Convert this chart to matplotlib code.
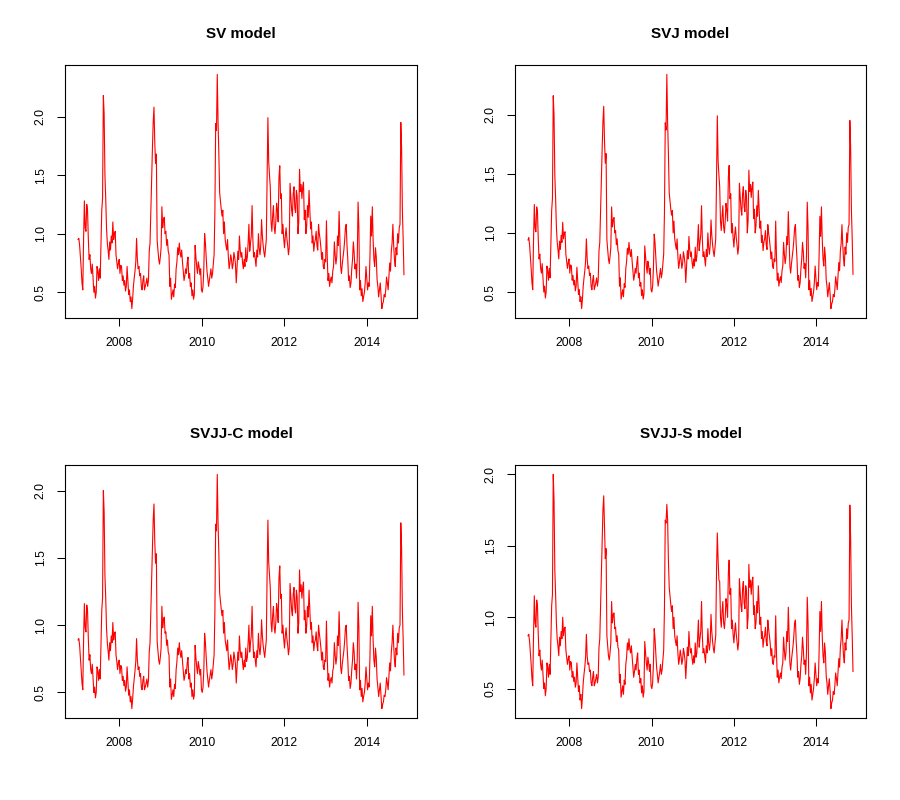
import numpy as np
import pandas as pd
import matplotlib
matplotlib.use("Agg")
import matplotlib.pyplot as plt
import matplotlib.dates as mdates

plt.rcParams['font.family'] = ['Liberation Sans', 'DejaVu Sans']

# weekly observations; values stored as even weeks (*_even) and odd weeks (*_odd)
dates = pd.date_range("2007-01-01", periods=413, freq="7D")

sv_even = [0.95, 0.90, 0.70, 0.52, 1.28, 1.02, 1.20, 0.78, 0.70, 0.74,
           0.50, 0.45, 0.72, 0.60, 0.62, 1.20, 2.18, 1.50, 1.05, 0.86,
           0.93, 0.98, 1.10, 1.00, 0.82, 0.70, 0.78, 0.73, 0.60, 0.56,
           0.51, 0.72, 0.48, 0.42, 0.36, 0.55, 0.68, 0.96, 0.70, 0.64,
           0.55, 0.60, 0.52, 0.58, 0.55, 0.85, 1.20, 1.72, 2.08, 1.60,
           0.94, 0.78, 0.80, 1.23, 1.12, 1.00, 0.90, 0.85, 0.55, 0.44,
           0.52, 0.57, 0.70, 0.88, 0.92, 0.80, 0.76, 0.60, 0.70, 0.75,
           0.62, 0.55, 0.47, 0.44, 0.90, 0.72, 0.76, 0.65, 0.52, 0.55,
           1.00, 0.80, 0.62, 0.60, 0.70, 0.66, 0.82, 1.94, 2.36, 1.68,
           1.28, 1.15, 1.00, 0.95, 0.86, 0.80, 0.75, 0.78, 0.74, 0.80,
           0.58, 0.85, 0.98, 0.80, 0.75, 0.78, 0.88, 0.80, 1.08, 0.92,
           1.24, 0.80, 0.78, 0.86, 1.00, 0.82, 1.12, 0.90, 0.80, 0.95,
           1.99, 1.50, 1.10, 1.15, 1.05, 1.10, 1.20, 1.48, 1.30, 1.00,
           0.96, 0.98, 0.96, 0.82, 1.43, 1.20, 1.34, 1.22, 1.37, 1.00,
           1.55, 1.42, 1.40, 1.12, 1.00, 1.24, 1.37, 1.04, 0.92, 0.85,
           0.95, 0.90, 1.08, 0.95, 0.78, 0.72, 0.78, 1.11, 0.60, 0.55,
           0.63, 0.68, 0.93, 0.74, 0.98, 1.19, 0.72, 0.74, 0.86, 1.05,
           0.90, 0.60, 0.54, 0.70, 0.93, 0.70, 0.62, 1.27, 0.52, 0.47,
           0.42, 0.50, 0.72, 0.52, 0.55, 1.15, 1.23, 0.78, 0.88, 0.61,
           0.46, 0.58, 0.36, 0.42, 0.46, 0.63, 0.52, 0.75, 0.85, 1.08,
           0.78, 0.88, 1.00, 1.05, 1.95, 1.20, 0.65]
sv_odd = [0.96, 0.80, 0.58, 0.95, 1.05, 1.25, 0.96, 0.82, 0.66, 0.62,
          0.55, 0.50, 0.68, 0.70, 0.90, 1.30, 2.02, 1.30, 0.92, 0.78,
          0.86, 0.92, 0.95, 1.02, 0.76, 0.75, 0.66, 0.72, 0.64, 0.60,
          0.55, 0.60, 0.52, 0.46, 0.44, 0.62, 0.76, 0.78, 0.72, 0.66,
          0.52, 0.64, 0.55, 0.62, 0.60, 0.92, 1.45, 1.95, 1.78, 1.68,
          0.86, 0.74, 0.88, 1.05, 1.14, 1.02, 0.95, 0.82, 0.62, 0.48,
          0.46, 0.54, 0.76, 0.82, 0.84, 0.86, 0.68, 0.64, 0.66, 0.80,
          0.66, 0.58, 0.52, 0.48, 0.80, 0.66, 0.72, 0.70, 0.50, 0.70,
          0.92, 0.68, 0.55, 0.65, 0.62, 0.74, 1.19, 1.88, 1.95, 1.35,
          1.21, 1.20, 1.10, 0.90, 0.95, 0.70, 0.82, 0.70, 0.84, 0.74,
          0.72, 0.78, 0.86, 0.84, 0.70, 0.72, 0.76, 0.92, 0.85, 0.98,
          0.95, 0.84, 0.72, 0.80, 0.88, 0.90, 0.98, 0.84, 0.88, 1.50,
          1.62, 1.40, 1.02, 1.24, 1.00, 1.26, 1.10, 1.58, 1.34, 1.08,
          0.88, 1.05, 0.90, 0.88, 1.32, 1.15, 1.40, 1.18, 1.32, 1.10,
          1.36, 1.30, 1.44, 1.20, 1.06, 1.14, 1.20, 1.10, 0.98, 0.92,
          1.02, 0.86, 1.00, 0.88, 0.84, 0.70, 0.76, 0.80, 0.66, 0.60,
          0.58, 0.72, 0.82, 0.80, 0.90, 0.95, 0.66, 0.80, 0.94, 1.08,
          0.78, 0.64, 0.58, 0.78, 0.84, 0.74, 0.80, 1.05, 0.60, 0.53,
          0.46, 0.58, 0.62, 0.58, 0.80, 0.98, 0.95, 0.72, 0.80, 0.55,
          0.52, 0.48, 0.40, 0.48, 0.52, 0.58, 0.64, 0.68, 0.92, 0.90,
          0.72, 0.82, 0.92, 1.08, 1.74, 0.95]

svj_even = [0.94, 0.90, 0.70, 0.52, 1.24, 1.01, 1.18, 0.78, 0.70, 0.74,
            0.50, 0.45, 0.72, 0.60, 0.62, 1.19, 2.16, 1.49, 1.05, 0.86,
            0.93, 0.98, 1.09, 1.00, 0.82, 0.70, 0.78, 0.73, 0.60, 0.56,
            0.51, 0.71, 0.48, 0.42, 0.36, 0.55, 0.68, 0.95, 0.70, 0.64,
            0.55, 0.60, 0.52, 0.58, 0.55, 0.85, 1.19, 1.71, 2.07, 1.59,
            0.94, 0.78, 0.80, 1.22, 1.11, 1.00, 0.90, 0.85, 0.55, 0.44,
            0.52, 0.57, 0.70, 0.87, 0.92, 0.80, 0.76, 0.60, 0.70, 0.75,
            0.62, 0.55, 0.47, 0.44, 0.89, 0.72, 0.76, 0.65, 0.52, 0.55,
            0.99, 0.80, 0.62, 0.60, 0.70, 0.66, 0.82, 1.93, 2.34, 1.67,
            1.27, 1.15, 1.00, 0.95, 0.86, 0.80, 0.75, 0.78, 0.74, 0.80,
            0.58, 0.85, 0.97, 0.80, 0.75, 0.78, 0.88, 0.80, 1.07, 0.92,
            1.23, 0.80, 0.78, 0.86, 1.00, 0.82, 1.11, 0.90, 0.80, 0.95,
            1.99, 1.49, 1.10, 1.14, 1.05, 1.10, 1.19, 1.47, 1.29, 1.00,
            0.96, 0.98, 0.96, 0.82, 1.42, 1.20, 1.33, 1.22, 1.36, 1.00,
            1.53, 1.41, 1.39, 1.12, 1.00, 1.23, 1.36, 1.04, 0.92, 0.85,
            0.95, 0.90, 1.07, 0.95, 0.78, 0.72, 0.78, 1.10, 0.60, 0.55,
            0.63, 0.68, 0.92, 0.74, 0.97, 1.18, 0.72, 0.74, 0.86, 1.04,
            0.90, 0.60, 0.54, 0.70, 0.92, 0.70, 0.62, 1.26, 0.52, 0.47,
            0.42, 0.50, 0.72, 0.52, 0.55, 1.14, 1.22, 0.78, 0.88, 0.61,
            0.46, 0.58, 0.36, 0.42, 0.46, 0.63, 0.52, 0.75, 0.85, 1.07,
            0.78, 0.88, 1.00, 1.05, 1.95, 1.19, 0.65]
svj_odd = [0.96, 0.80, 0.58, 0.94, 1.04, 1.22, 0.95, 0.82, 0.66, 0.62,
           0.55, 0.50, 0.68, 0.70, 0.90, 1.29, 2.00, 1.29, 0.92, 0.78,
           0.86, 0.92, 0.95, 1.01, 0.76, 0.75, 0.66, 0.72, 0.64, 0.60,
           0.55, 0.60, 0.52, 0.46, 0.44, 0.62, 0.76, 0.78, 0.72, 0.66,
           0.52, 0.64, 0.55, 0.62, 0.60, 0.92, 1.44, 1.94, 1.77, 1.67,
           0.86, 0.74, 0.88, 1.05, 1.13, 1.02, 0.95, 0.82, 0.62, 0.48,
           0.46, 0.54, 0.76, 0.82, 0.84, 0.86, 0.68, 0.64, 0.66, 0.80,
           0.66, 0.58, 0.52, 0.48, 0.80, 0.66, 0.72, 0.70, 0.50, 0.70,
           0.92, 0.68, 0.55, 0.65, 0.62, 0.74, 1.18, 1.87, 1.93, 1.34,
           1.20, 1.19, 1.10, 0.90, 0.95, 0.70, 0.82, 0.70, 0.84, 0.74,
           0.72, 0.78, 0.86, 0.84, 0.70, 0.72, 0.76, 0.92, 0.85, 0.98,
           0.95, 0.84, 0.72, 0.80, 0.88, 0.90, 0.98, 0.84, 0.88, 1.49,
           1.61, 1.39, 1.02, 1.23, 1.00, 1.25, 1.10, 1.57, 1.33, 1.08,
           0.88, 1.05, 0.90, 0.88, 1.31, 1.15, 1.39, 1.18, 1.31, 1.10,
           1.35, 1.30, 1.43, 1.20, 1.06, 1.14, 1.20, 1.10, 0.98, 0.92,
           1.02, 0.86, 1.00, 0.88, 0.84, 0.70, 0.76, 0.80, 0.66, 0.60,
           0.58, 0.72, 0.82, 0.80, 0.90, 0.95, 0.66, 0.80, 0.94, 1.07,
           0.78, 0.64, 0.58, 0.78, 0.84, 0.74, 0.80, 1.04, 0.60, 0.53,
           0.46, 0.58, 0.62, 0.58, 0.80, 0.97, 0.95, 0.72, 0.80, 0.55,
           0.52, 0.48, 0.40, 0.48, 0.52, 0.58, 0.64, 0.68, 0.91, 0.90,
           0.72, 0.82, 0.92, 1.07, 1.73, 0.95]

svjj_c_even = [0.89, 0.85, 0.67, 0.52, 1.16, 0.95, 1.11, 0.74, 0.67, 0.71,
               0.50, 0.46, 0.69, 0.59, 0.60, 1.11, 2.00, 1.37, 0.98, 0.81,
               0.87, 0.92, 1.02, 0.94, 0.78, 0.67, 0.74, 0.70, 0.59, 0.55,
               0.51, 0.69, 0.48, 0.43, 0.38, 0.54, 0.66, 0.90, 0.67, 0.62,
               0.54, 0.59, 0.52, 0.57, 0.54, 0.80, 1.11, 1.56, 1.90, 1.46,
               0.88, 0.74, 0.76, 1.14, 1.04, 0.94, 0.85, 0.80, 0.54, 0.45,
               0.52, 0.56, 0.67, 0.83, 0.87, 0.76, 0.73, 0.59, 0.67, 0.72,
               0.60, 0.54, 0.47, 0.45, 0.85, 0.69, 0.73, 0.63, 0.52, 0.54,
               0.94, 0.76, 0.60, 0.59, 0.67, 0.64, 0.78, 1.75, 2.12, 1.53,
               1.18, 1.07, 0.94, 0.89, 0.81, 0.76, 0.72, 0.74, 0.71, 0.76,
               0.57, 0.80, 0.92, 0.76, 0.72, 0.74, 0.83, 0.76, 1.00, 0.87,
               1.14, 0.76, 0.74, 0.81, 0.94, 0.78, 1.04, 0.85, 0.76, 0.89,
               1.78, 1.37, 1.02, 1.07, 0.98, 1.02, 1.11, 1.35, 1.20, 0.94,
               0.90, 0.92, 0.90, 0.78, 1.31, 1.11, 1.23, 1.13, 1.26, 0.94,
               1.41, 1.30, 1.28, 1.04, 0.94, 1.14, 1.26, 0.97, 0.87, 0.81,
               0.89, 0.85, 1.00, 0.89, 0.74, 0.69, 0.74, 1.03, 0.59, 0.54,
               0.61, 0.66, 0.87, 0.71, 0.92, 1.10, 0.69, 0.71, 0.81, 0.98,
               0.85, 0.59, 0.53, 0.67, 0.87, 0.67, 0.60, 1.17, 0.52, 0.47,
               0.43, 0.50, 0.69, 0.52, 0.54, 1.07, 1.14, 0.74, 0.83, 0.60,
               0.47, 0.57, 0.38, 0.43, 0.47, 0.61, 0.52, 0.72, 0.80, 1.00,
               0.74, 0.83, 0.94, 0.98, 1.76, 1.11, 0.63]
svjj_c_odd = [0.90, 0.76, 0.57, 0.89, 0.98, 1.15, 0.90, 0.78, 0.64, 0.60,
              0.54, 0.50, 0.66, 0.67, 0.85, 1.20, 1.84, 1.20, 0.87, 0.74,
              0.81, 0.87, 0.89, 0.95, 0.73, 0.72, 0.64, 0.69, 0.62, 0.59,
              0.54, 0.59, 0.52, 0.47, 0.45, 0.60, 0.73, 0.74, 0.69, 0.64,
              0.52, 0.62, 0.54, 0.60, 0.59, 0.87, 1.33, 1.78, 1.62, 1.53,
              0.81, 0.71, 0.83, 0.98, 1.06, 0.95, 0.89, 0.78, 0.60, 0.48,
              0.47, 0.53, 0.73, 0.78, 0.80, 0.81, 0.66, 0.62, 0.64, 0.76,
              0.64, 0.57, 0.52, 0.48, 0.76, 0.64, 0.69, 0.67, 0.50, 0.67,
              0.87, 0.66, 0.54, 0.63, 0.60, 0.71, 1.10, 1.70, 1.76, 1.24,
              1.12, 1.11, 1.02, 0.85, 0.89, 0.67, 0.78, 0.67, 0.80, 0.71,
              0.69, 0.74, 0.81, 0.80, 0.67, 0.69, 0.73, 0.87, 0.80, 0.92,
              0.89, 0.80, 0.69, 0.76, 0.83, 0.85, 0.92, 0.80, 0.83, 1.37,
              1.47, 1.28, 0.95, 1.14, 0.94, 1.16, 1.02, 1.44, 1.23, 1.00,
              0.83, 0.98, 0.85, 0.83, 1.21, 1.07, 1.28, 1.09, 1.21, 1.02,
              1.25, 1.20, 1.32, 1.11, 0.99, 1.06, 1.11, 1.02, 0.92, 0.87,
              0.95, 0.81, 0.94, 0.83, 0.80, 0.67, 0.73, 0.76, 0.64, 0.59,
              0.57, 0.69, 0.78, 0.76, 0.85, 0.89, 0.64, 0.76, 0.88, 1.00,
              0.74, 0.62, 0.57, 0.74, 0.80, 0.71, 0.76, 0.98, 0.59, 0.53,
              0.47, 0.57, 0.60, 0.57, 0.76, 0.92, 0.89, 0.69, 0.76, 0.54,
              0.52, 0.48, 0.41, 0.48, 0.52, 0.57, 0.62, 0.66, 0.87, 0.85,
              0.69, 0.78, 0.87, 1.00, 1.58, 0.89]

svjj_s_even = [0.87, 0.83, 0.67, 0.52, 1.15, 0.93, 1.08, 0.73, 0.67, 0.70,
               0.50, 0.45, 0.68, 0.58, 0.60, 1.08, 2.00, 1.33, 0.96, 0.80,
               0.86, 0.90, 1.00, 0.92, 0.77, 0.67, 0.73, 0.69, 0.58, 0.55,
               0.51, 0.68, 0.48, 0.42, 0.36, 0.54, 0.65, 0.88, 0.67, 0.62,
               0.54, 0.58, 0.52, 0.57, 0.54, 0.79, 1.08, 1.51, 1.85, 1.41,
               0.87, 0.73, 0.75, 1.11, 1.02, 0.92, 0.83, 0.79, 0.54, 0.44,
               0.52, 0.56, 0.67, 0.82, 0.85, 0.75, 0.72, 0.58, 0.67, 0.71,
               0.60, 0.54, 0.47, 0.44, 0.83, 0.68, 0.72, 0.62, 0.52, 0.54,
               0.92, 0.75, 0.60, 0.58, 0.67, 0.63, 0.77, 1.68, 1.79, 1.40,
               1.15, 1.04, 0.92, 0.87, 0.80, 0.75, 0.71, 0.73, 0.70, 0.75,
               0.57, 0.79, 0.90, 0.75, 0.71, 0.73, 0.82, 0.75, 0.98, 0.85,
               1.11, 0.75, 0.73, 0.80, 0.92, 0.77, 1.02, 0.83, 0.75, 0.87,
               1.59, 1.26, 1.00, 1.04, 0.96, 1.00, 1.08, 1.31, 1.16, 0.92,
               0.88, 0.90, 0.88, 0.77, 1.27, 1.08, 1.20, 1.10, 1.22, 0.92,
               1.37, 1.26, 1.25, 1.02, 0.92, 1.11, 1.22, 0.95, 0.85, 0.79,
               0.87, 0.83, 0.98, 0.87, 0.73, 0.68, 0.73, 1.01, 0.58, 0.54,
               0.61, 0.65, 0.86, 0.70, 0.90, 1.07, 0.68, 0.70, 0.80, 0.96,
               0.83, 0.58, 0.53, 0.67, 0.86, 0.67, 0.60, 1.14, 0.52, 0.47,
               0.42, 0.50, 0.68, 0.52, 0.54, 1.04, 1.11, 0.73, 0.82, 0.59,
               0.46, 0.57, 0.36, 0.42, 0.46, 0.61, 0.52, 0.71, 0.79, 0.98,
               0.73, 0.82, 0.92, 0.96, 1.785, 1.08, 0.62]
svjj_s_odd = [0.88, 0.75, 0.57, 0.87, 0.96, 1.12, 0.88, 0.77, 0.63, 0.60,
              0.54, 0.50, 0.65, 0.67, 0.83, 1.16, 1.82, 1.16, 0.85, 0.73,
              0.80, 0.85, 0.87, 0.93, 0.72, 0.71, 0.63, 0.68, 0.62, 0.58,
              0.54, 0.58, 0.52, 0.46, 0.44, 0.60, 0.72, 0.73, 0.68, 0.63,
              0.52, 0.62, 0.54, 0.60, 0.58, 0.85, 1.29, 1.75, 1.62, 1.48,
              0.80, 0.70, 0.82, 0.96, 1.03, 0.93, 0.87, 0.77, 0.60, 0.48,
              0.46, 0.53, 0.72, 0.77, 0.78, 0.80, 0.65, 0.62, 0.63, 0.75,
              0.63, 0.57, 0.52, 0.48, 0.75, 0.63, 0.68, 0.67, 0.50, 0.67,
              0.85, 0.65, 0.54, 0.62, 0.60, 0.70, 1.07, 1.66, 1.68, 1.21,
              1.09, 1.08, 1.00, 0.83, 0.87, 0.67, 0.77, 0.67, 0.78, 0.70,
              0.68, 0.73, 0.80, 0.78, 0.67, 0.68, 0.72, 0.85, 0.79, 0.90,
              0.87, 0.78, 0.68, 0.75, 0.82, 0.83, 0.90, 0.78, 0.82, 1.33,
              1.40, 1.25, 0.93, 1.11, 0.92, 1.13, 1.00, 1.40, 1.20, 0.98,
              0.82, 0.96, 0.83, 0.82, 1.18, 1.04, 1.25, 1.06, 1.18, 1.00,
              1.21, 1.16, 1.28, 1.08, 0.96, 1.03, 1.08, 1.00, 0.90, 0.85,
              0.93, 0.80, 0.92, 0.82, 0.78, 0.67, 0.72, 0.75, 0.63, 0.58,
              0.57, 0.68, 0.77, 0.75, 0.83, 0.87, 0.63, 0.75, 0.87, 0.98,
              0.73, 0.62, 0.57, 0.73, 0.78, 0.70, 0.75, 0.96, 0.58, 0.53,
              0.46, 0.57, 0.60, 0.57, 0.75, 0.90, 0.87, 0.68, 0.75, 0.54,
              0.52, 0.48, 0.40, 0.48, 0.52, 0.57, 0.62, 0.65, 0.85, 0.83,
              0.68, 0.77, 0.85, 0.98, 1.55, 0.87]


def weekly(even, odd):
    out = np.empty(len(even) + len(odd))
    out[0::2] = even
    out[1::2] = odd
    return out


titles = ["SV model", "SVJ model", "SVJJ-C model", "SVJJ-S model"]
series = [weekly(sv_even, sv_odd), weekly(svj_even, svj_odd),
          weekly(svjj_c_even, svjj_c_odd), weekly(svjj_s_even, svjj_s_odd)]

W, H = 900, 800
fig = plt.figure(figsize=(9, 8), dpi=100)
fig.patch.set_facecolor("white")

# axes boxes in pixels (left, top, right, bottom)
boxes = [(65, 65, 417, 318), (515, 65, 866, 318),
         (65, 465, 417, 718), (515, 465, 866, 718)]

for k, (box, title, vals) in enumerate(zip(boxes, titles, series)):
    l, t, r, b = box
    ax = fig.add_axes([l / W, 1 - b / H, (r - l) / W, (b - t) / H])
    ax.plot(dates, vals, color="red", lw=0.8)
    ax.margins(x=0.04, y=0.04)
    ax.xaxis.set_major_locator(mdates.YearLocator(base=2))
    ax.xaxis.set_major_formatter(mdates.DateFormatter("%Y"))
    ax.yaxis.set_major_locator(plt.MultipleLocator(0.5))
    ax.yaxis.set_major_formatter(plt.FuncFormatter(lambda v, p: f"{v:.1f}"))
    ax.tick_params(axis="both", direction="out", length=5.5, width=0.75,
                   labelsize=8.8, colors="black")
    ax.tick_params(axis="x", pad=8.4)
    ax.tick_params(axis="y", pad=7.6)
    plt.setp(ax.get_yticklabels(), rotation=90, va="center")
    for s in ax.spines.values():
        s.set_linewidth(0.8)
        s.set_color("black")
    ty = 33.5 if k < 2 else 433.5
    fig.text((l + r) / 2 / W, 1 - ty / H, title, ha="center", va="center",
             fontsize=11, fontweight="bold")

fig.savefig("out.png", dpi=100, facecolor="white")
